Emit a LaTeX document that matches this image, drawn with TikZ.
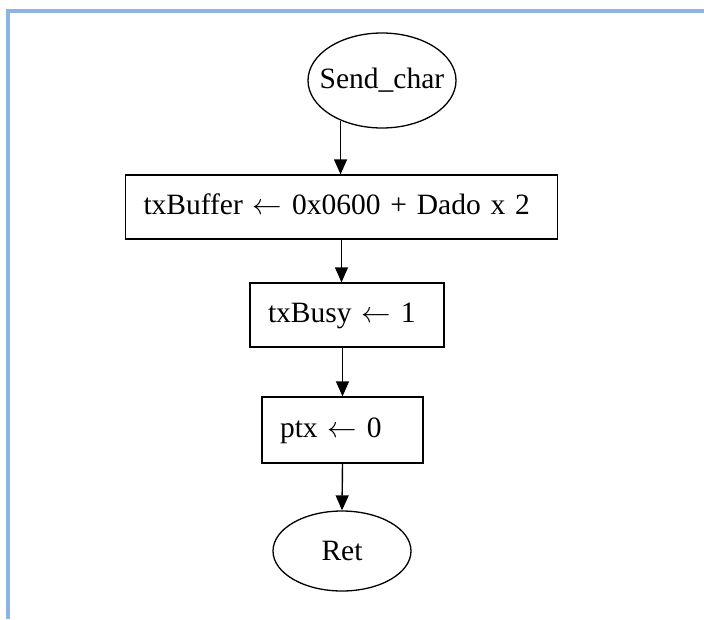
\RequirePackage{fix-cm}
\documentclass[tikz,border=0pt]{standalone}
\usepackage{fontspec}
\setmainfont{Liberation Serif}
\usetikzlibrary{shapes.geometric,arrows.meta}

\definecolor{frameblue}{RGB}{142,180,227}

\newcommand{\assign}{\ensuremath{\leftarrow}}

\tikzset{
  term/.style={ellipse, draw, line width=1.3pt, inner sep=0pt},
  stepbox/.style={rectangle, draw, line width=1.3pt, inner xsep=18pt, inner ysep=0pt,
    align=left, text height=21pt, text depth=7pt},
  flow/.style={line width=1.4pt, -{Triangle[width=13pt,length=15pt]}},
  lbl/.style={font=\fontsize{29.5}{32}\selectfont}
}

\begin{document}
\begin{tikzpicture}[x=1pt,y=-1pt]
  \useasboundingbox (0,0) rectangle (704,619);

  % page frame, top and left edges
  \draw[frameblue, line width=4pt, line join=miter] (704,11) -- (8,11) -- (8,619);

  % terminals
  \node[term, minimum width=148pt, minimum height=95pt,
        label={[lbl]center:Send\_char}] (s) at (382,80.5) {};
  \node[term, minimum width=138pt, minimum height=80pt,
        label={[lbl]center:Ret}] (r) at (342,551) {};

  % process steps
  \node[stepbox, lbl, text width=396pt, minimum height=64pt] (b1) at (341.5,207)
    {txBuffer \assign{} 0x0600 + Dado x 2};
  \node[stepbox, lbl, text width=158pt, minimum height=64pt] (b2) at (347,315)
    {txBusy \assign{} 1};
  \node[stepbox, lbl, text width=125pt, minimum height=66pt] (b3) at (342.5,430)
    {ptx \assign{} 0};

  % connectors
  \draw[flow] (s.224) -- (s.224 |- b1.north);
  \draw[flow] (b1.south) -- (b1.south |- b2.north);
  \draw[flow] (b3.north |- b2.south) -- (b3.north);
  \draw[flow] (b3.south) -- (r.north);
\end{tikzpicture}
\end{document}
